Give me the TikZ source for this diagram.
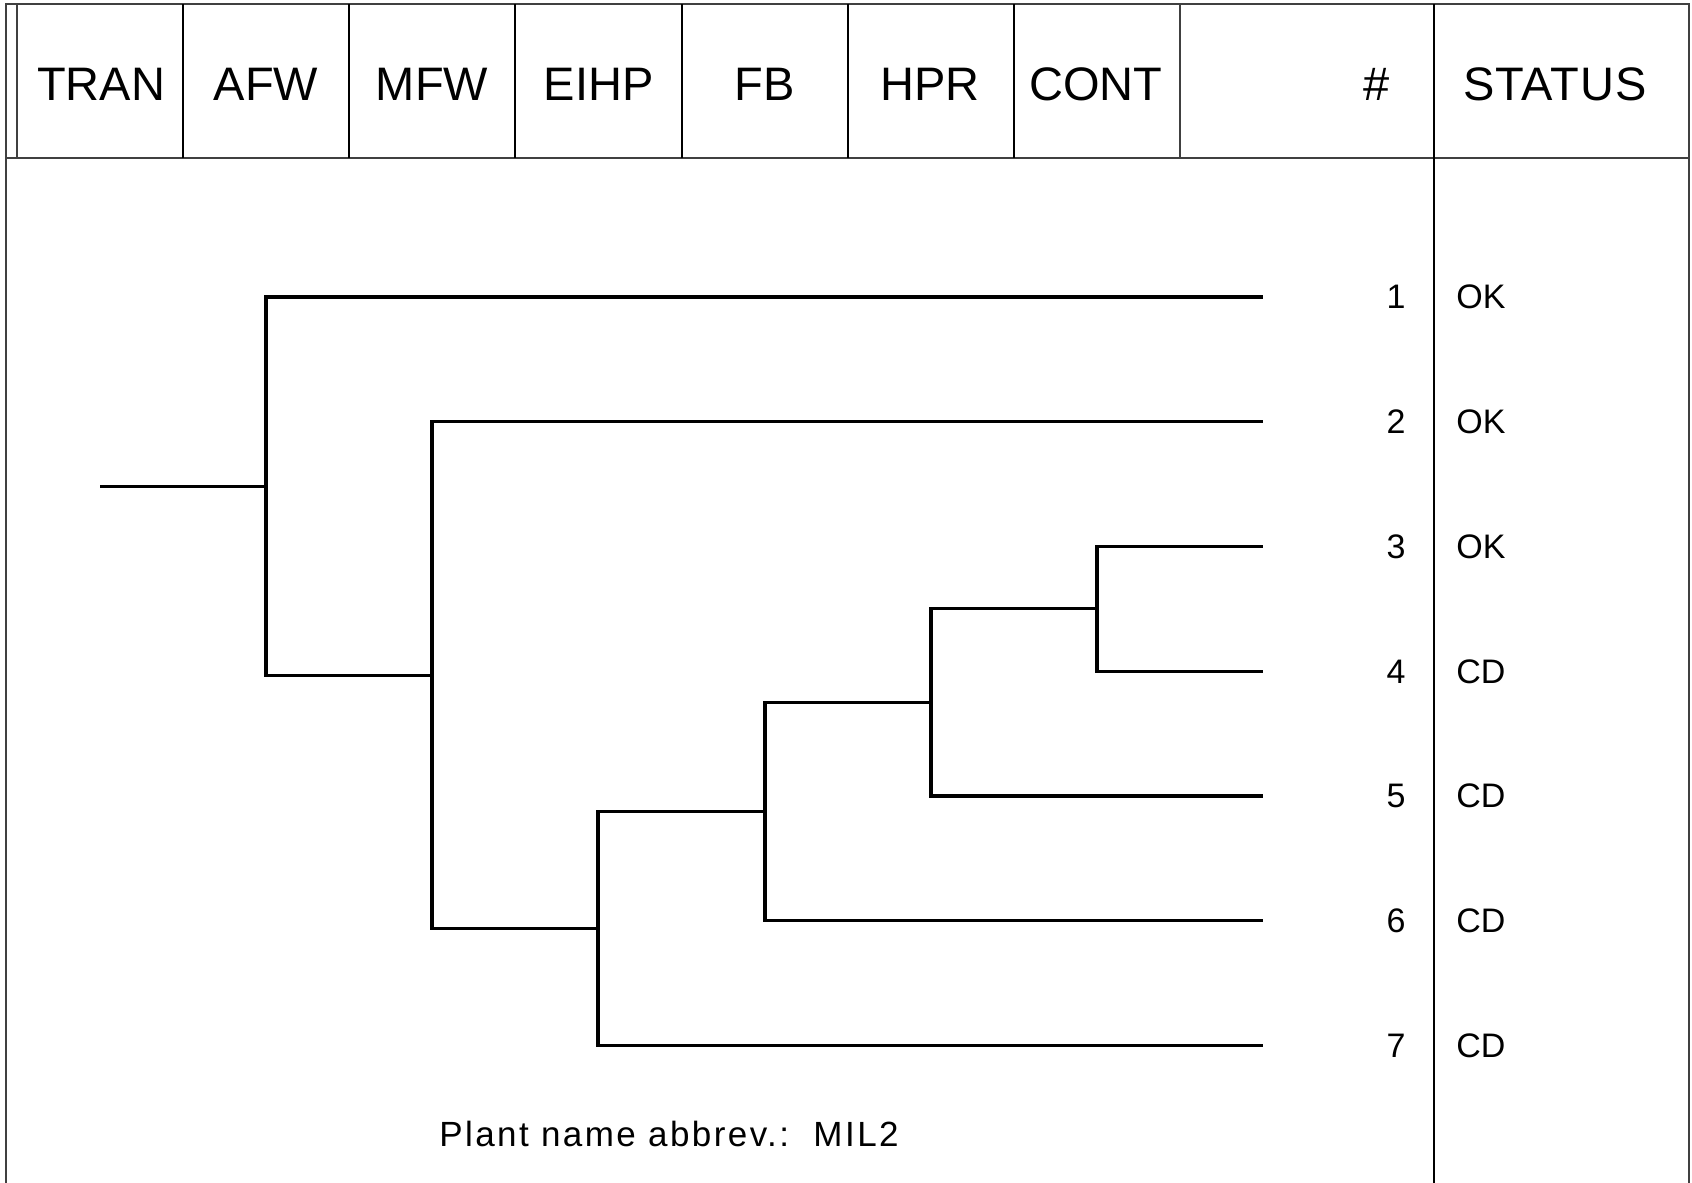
\documentclass[tikz,border=0pt]{standalone}
\usepackage{fontspec}
\setmainfont{Liberation Sans}
\newfontfamily\plantfont[LetterSpace=7]{Liberation Sans}
\newfontfamily\statusfont[LetterSpace=2]{Liberation Sans}
\begin{document}
\begin{tikzpicture}[x=0.5pt,y=-0.5pt,
  frame/.style={line width=1pt,draw=black!75},
  divider/.style={line width=0.6pt,draw=black},
  branch/.style={line width=1.55pt,draw=black,line join=miter},
  headtxt/.style={inner sep=0pt,font=\fontsize{23.5}{28}\selectfont},
  numtxt/.style={inner sep=0pt,font=\fontsize{17}{20}\selectfont},
  stattxt/.style={inner sep=0pt,anchor=west,font=\fontsize{17}{20}\selectfont}]
\useasboundingbox (0,0) rectangle (1692,1183);
% frame
\draw[frame] (6,1183) -- (6,4) -- (1689,4) -- (1689,1183);
\draw[frame] (6,158) -- (1689,158);
\draw[frame] (17,4) -- (17,158);
\foreach \x in {183,349,515,682,848,1014}{\draw[divider] (\x,4) -- (\x,158);}
\draw[frame] (1180,4) -- (1180,158);
\draw[divider] (1434,4) -- (1434,1183);
% header
\node[headtxt] (hTRAN) at (101,84) {TRAN};
\node[headtxt] (hAFW) at (266,84) {AFW};
\node[headtxt] (hMFW) at (432,84) {MFW};
\node[headtxt] (hEIHP) at (598.5,84) {EIHP};
\node[headtxt] (hFB) at (765,84) {FB};
\node[headtxt] (hHPR) at (930,84) {HPR};
\node[headtxt] (hCONT) at (1096,84) {CONT};
\node[headtxt] (hNUM) at (1377,84) {\#};
\node[headtxt,font=\fontsize{23.5}{28}\statusfont] (hSTATUS) at (1555,84) {STATUS};
% tree coordinates
\coordinate (r) at (100,486.1);
\coordinate (A) at (266,486.1);
\coordinate (B) at (432,675.2);
\coordinate (C) at (598,928.6);
\coordinate (D) at (765,811.6);
\coordinate (E) at (931,702.45);
\coordinate (F) at (1097,608.9);
\coordinate (l1) at (1263,297);
\coordinate (l2) at (1263,421.7);
\coordinate (l3) at (1263,546.5);
\coordinate (l4) at (1263,671.3);
\coordinate (l5) at (1263,796);
\coordinate (l6) at (1263,920.8);
\coordinate (l7) at (1263,1045.6);
% branches
\draw[branch] (r) -- (A);
\draw[branch] (A) |- (l1);
\draw[branch] (A) |- (B);
\draw[branch] (B) |- (l2);
\draw[branch] (B) |- (C);
\draw[branch] (C) |- (D);
\draw[branch] (C) |- (l7);
\draw[branch] (D) |- (E);
\draw[branch] (D) |- (l6);
\draw[branch] (E) |- (F);
\draw[branch] (E) |- (l5);
\draw[branch] (F) |- (l3);
\draw[branch] (F) |- (l4);
% labels
\foreach \i/\y/\s in {1/297/OK,2/421.7/OK,3/546.5/OK,4/671.3/CD,5/796/CD,6/920.8/CD,7/1045.6/CD}{
  \node[numtxt] (n\i) at (1396,\y) {\i};
  \node[stattxt] (s\i) at (1456,\y) {\s};
}
\node[inner sep=0pt,font=\fontsize{17.5}{21}\plantfont] (plant) at (669,1134) {Plant name abbrev.:\ \ MIL2};
\end{tikzpicture}
\end{document}
